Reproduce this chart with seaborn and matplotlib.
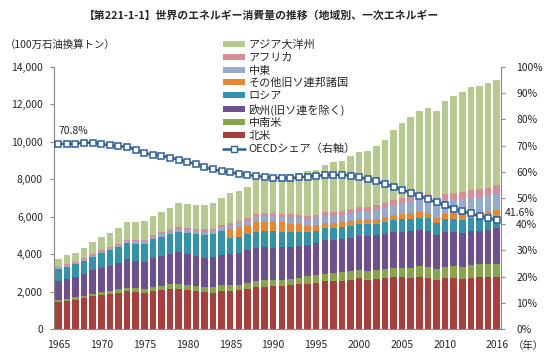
import numpy as np
import pandas as pd
import matplotlib.pyplot as plt
import seaborn as sns
from matplotlib.patches import Patch
from matplotlib.lines import Line2D

# data (Mtoe)
years = list(range(1965, 2017))
north_america = [1430, 1500, 1560, 1650, 1740, 1800, 1850, 1940, 2010, 1960,
                 1930, 2030, 2080, 2130, 2150, 2080, 2030, 1960, 1950, 2040,
                 2050, 2060, 2130, 2230, 2270, 2280, 2290, 2330, 2380, 2430,
                 2470, 2540, 2570, 2590, 2640, 2700, 2640, 2690, 2710, 2760,
                 2770, 2750, 2800, 2750, 2630, 2720, 2710, 2660, 2740, 2770,
                 2770, 2790]
latin_america = [120, 125, 130, 140, 150, 160, 170, 180, 195, 205,
                 210, 225, 235, 250, 265, 270, 275, 280, 285, 295,
                 300, 310, 320, 330, 335, 340, 345, 355, 365, 380,
                 395, 410, 425, 435, 440, 455, 460, 465, 470, 495,
                 515, 535, 555, 575, 570, 610, 635, 655, 675, 690,
                 700, 710]
europe = [1030, 1060, 1080, 1160, 1240, 1320, 1360, 1420, 1510, 1480,
          1450, 1540, 1570, 1620, 1680, 1660, 1610, 1580, 1590, 1640,
          1680, 1710, 1750, 1760, 1760, 1730, 1720, 1700, 1700, 1690,
          1730, 1790, 1780, 1800, 1800, 1830, 1860, 1850, 1890, 1910,
          1920, 1930, 1910, 1910, 1800, 1870, 1840, 1840, 1830, 1770,
          1810, 1880]
russia = [610, 650, 680, 710, 740, 780, 820, 850, 880, 920,
          960, 1000, 1040, 1080, 1110, 1140, 1170, 1200, 1230, 1270,
          820, 840, 860, 880, 880, 870, 850, 800, 750, 680,
          660, 640, 620, 610, 620, 620, 630, 630, 645, 650,
          655, 675, 680, 685, 650, 675, 695, 690, 685, 685,
          670, 675]
other_fsu = [0, 0, 0, 0, 0, 0, 0, 0, 0, 0,
             0, 0, 0, 0, 0, 0, 0, 0, 0, 0,
             480, 490, 500, 520, 520, 530, 500, 450, 390, 330,
             290, 280, 270, 260, 255, 250, 255, 260, 270, 275,
             280, 285, 290, 295, 270, 285, 300, 300, 305, 310,
             305, 310]
middle_east = [60, 65, 70, 75, 80, 85, 90, 95, 105, 110,
               120, 130, 140, 150, 160, 165, 170, 180, 190, 200,
               215, 225, 235, 250, 265, 280, 290, 310, 325, 345,
               360, 375, 390, 405, 420, 435, 455, 480, 500, 540,
               580, 610, 640, 680, 715, 750, 770, 800, 825, 855,
               880, 895]
africa = [50, 52, 54, 57, 60, 64, 68, 72, 76, 80,
          84, 88, 92, 96, 100, 105, 112, 118, 122, 128,
          135, 140, 145, 150, 160, 170, 175, 180, 185, 190,
          195, 200, 205, 210, 215, 225, 230, 235, 250, 265,
          275, 280, 295, 310, 315, 325, 325, 350, 370, 385,
          400, 430]
asia_pacific = [440, 488, 486, 558, 620, 711, 752, 823, 944, 965,
                1016, 1047, 1113, 1144, 1255, 1260, 1283, 1312, 1353, 1407,
                1570, 1605, 1670, 1940, 1960, 1990, 2020, 2155, 2235, 2375,
                2400, 2535, 2690, 2690, 2830, 2925, 3000, 3170, 3365, 3745,
                3995, 4245, 4500, 4625, 4720, 4965, 5195, 5355, 5480, 5505,
                5605, 5620]
oecd_share = [70.8, 70.6, 70.8, 71.1, 71.1, 70.7, 70.1, 69.7, 69.6, 68.4,
              67.1, 66.6, 66.2, 65.4, 64.6, 63.8, 63.0, 61.8, 60.9, 60.3,
              59.8, 59.3, 58.8, 58.4, 58.1, 57.8, 57.6, 57.6, 57.9, 58.2,
              58.5, 58.7, 58.8, 58.8, 58.5, 58.0, 57.2, 56.4, 55.3, 54.3,
              53.2, 52.0, 50.9, 49.6, 48.3, 47.2, 45.9, 44.9, 44.1, 43.1,
              42.3, 41.6]

regions = ['北米', '中南米', '欧州(旧ソ連を除く)', 'ロシア', 'その他旧ソ連邦諸国',
           '中東', 'アフリカ', 'アジア大洋州']
colors = ['#A83F3C', '#89A54B', '#6E5091', '#3393AA', '#E8872F',
          '#96AAD0', '#D88C93', '#B6CA8F']
line_color = '#2F5E97'

sns.set_style("white")
plt.rcParams['font.family'] = ['Noto Sans CJK JP', 'DejaVu Sans']

df = pd.DataFrame({'year': [str(y) for y in years]})
stack = np.array([north_america, latin_america, europe, russia, other_fsu,
                  middle_east, africa, asia_pacific])
cum = np.cumsum(stack, axis=0)

fig = plt.figure(figsize=(5.5, 3.58), dpi=100)
ax = fig.add_axes([54 / 550, 29 / 358, 447 / 550, 262 / 358])

# stacked bars: draw cumulative totals from the top layer down
for i in range(len(regions) - 1, -1, -1):
    df['v'] = cum[i]
    sns.barplot(data=df, x='year', y='v', color=colors[i], saturation=1,
                width=0.76, linewidth=0, ax=ax)

ax.set_xlim(-0.5, len(years) - 0.5)
ax.set_ylim(0, 14000)
ax.set_yticks(range(0, 14001, 2000))
ax.set_yticklabels([f'{v:,}' for v in range(0, 14001, 2000)], fontsize=7.5)
tick_years = [1965, 1970, 1975, 1980, 1985, 1990, 1995, 2000, 2005, 2010, 2016]
ax.set_xticks([years.index(y) for y in tick_years])
ax.set_xticklabels([str(y) for y in tick_years], fontsize=7.5)
ax.set_xticks(np.arange(-0.5, len(years), 1), minor=True)
ax.tick_params(axis='x', which='major', length=0, pad=8)
ax.tick_params(axis='x', which='minor', length=3, color='#888888')
ax.tick_params(axis='y', length=3, color='#888888', pad=5, left=True)
ax.set_xlabel('')
ax.set_ylabel('')
for s in ['left', 'bottom']:
    ax.spines[s].set_color('#888888')
ax.spines['top'].set_visible(False)
ax.spines['right'].set_visible(False)

ax2 = ax.twinx()
sns.lineplot(x=np.arange(len(years)), y=oecd_share, ax=ax2, color=line_color,
             lw=1.8, marker='s', markersize=4.8, markerfacecolor='white',
             markeredgecolor=line_color, markeredgewidth=1.1)
ax2.set_ylim(0, 100)
ax2.set_xlim(-0.5, len(years) - 0.5)
ax2.set_yticks(range(0, 101, 10))
ax2.set_yticklabels([f'{v}%' for v in range(0, 101, 10)], fontsize=7.5)
ax2.tick_params(axis='y', length=3, color='#888888', pad=8, right=True)
for s in ['left', 'bottom', 'top']:
    ax2.spines[s].set_visible(False)
ax2.spines['right'].set_color('#888888')

ax2.text(0, 75.6, f'{oecd_share[0]}%', fontsize=7.5, ha='left', va='center')
ax2.text(len(years) - 0.05, 44.2, f'{oecd_share[-1]}%', fontsize=7.5,
         ha='left', va='center', clip_on=False)

fig.text(261 / 550, 1 - 16 / 358, '【第221-1-1】世界のエネルギー消費量の推移（地域別、一次エネルギー',
         fontsize=7.8, fontweight='bold', ha='center', va='center')
fig.text(5 / 550, 1 - 45 / 358, '（100万石油換算トン）', fontsize=7.5, ha='left', va='center')
fig.text(513 / 550, 1 - 346 / 358, '（年）', fontsize=7.5, ha='left', va='center')

handles = [Patch(facecolor=colors[i], edgecolor='none', label=regions[i])
           for i in range(len(regions) - 1, -1, -1)]
handles.append(Line2D([0], [0], color=line_color, lw=1.8, marker='s', markersize=4.8,
                      markerfacecolor='white', markeredgecolor=line_color,
                      label='OECDシェア（右軸）'))
fig.legend(handles=handles, loc='upper left', bbox_to_anchor=(223 / 550, 1 - 40 / 358),
           frameon=False, fontsize=8, handlelength=2.0, handleheight=0.45,
           handletextpad=0.3, labelspacing=0.24, borderpad=0, borderaxespad=0)

fig.savefig('out.png', dpi=100)
